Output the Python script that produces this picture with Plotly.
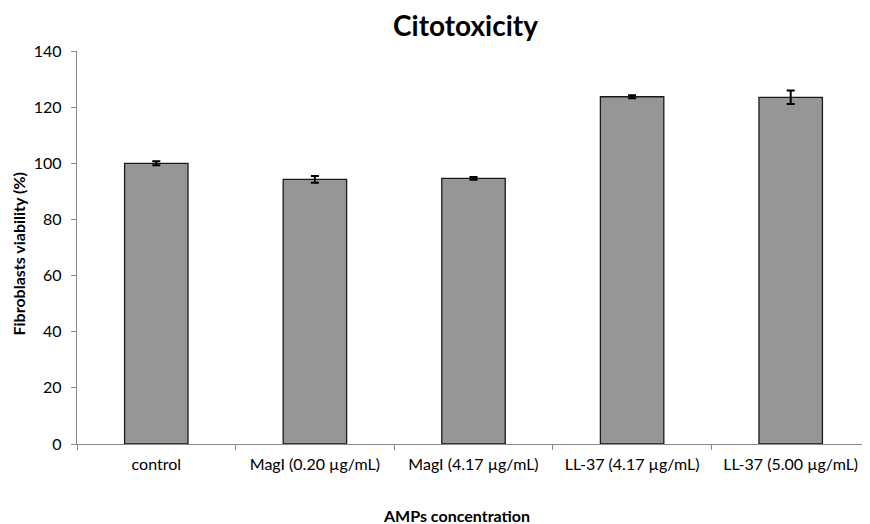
import plotly.graph_objects as go

categories = ["control", "MagI (0.20 µg/mL)", "MagI (4.17 µg/mL)", "LL-37 (4.17 µg/mL)", "LL-37 (5.00 µg/mL)"]
viability = [100.0, 94.3, 94.6, 123.7, 123.5]
errors = [0.7, 1.2, 0.5, 0.5, 2.4]
y_ticks = [0, 20, 40, 60, 80, 100, 120, 140]

font_family = "Lato, 'Open Sans', sans-serif"

fig = go.Figure()
fig.add_trace(go.Bar(
    x=categories, y=viability,
    width=0.4,
    marker=dict(color="#969696", line=dict(color="#1a1a1a", width=1.3)),
    error_y=dict(type="data", array=errors, visible=True, color="#000000", thickness=2, width=4),
))

fig.update_layout(
    width=862, height=516,
    margin=dict(l=69, r=0, t=43, b=80),
    paper_bgcolor="white", plot_bgcolor="white",
    showlegend=False,
    font=dict(family=font_family, size=16, color="#000000"),
)
fig.add_annotation(text="<b>Citotoxicity</b>", xref="paper", yref="paper", x=0.5, y=1, yshift=26, xshift=-8,
                   showarrow=False, font=dict(size=28, family=font_family), xanchor="center", yanchor="middle")
fig.add_annotation(text="<b>AMPs concentration</b>", xref="paper", yref="paper", x=0.5, y=0, yshift=-71, xshift=-17,
                   showarrow=False, font=dict(size=16, family=font_family), xanchor="center", yanchor="middle")
fig.add_annotation(text="<b>Fibroblasts viability (%)</b>", xref="paper", yref="paper", x=0, y=0.5, xshift=-59, yshift=-7,
                   textangle=-90, showarrow=False, font=dict(size=16, family=font_family), xanchor="center", yanchor="middle")

fig.update_xaxes(
    automargin=False,
    showline=True, linecolor="#888888", linewidth=1.3,
    ticks="outside", tickson="boundaries", ticklen=5, tickcolor="#888888",
    ticklabelstandoff=6,
    showgrid=False, tickfont=dict(size=16, family=font_family),
)
fig.update_yaxes(
    automargin=False,
    range=[0, 140], tickvals=y_ticks,
    showline=True, linecolor="#888888", linewidth=1.3,
    ticks="outside", ticklen=5, tickcolor="#888888",
    ticklabelstandoff=6,
    showgrid=False, zeroline=False, tickfont=dict(size=16, family=font_family),
)

fig.write_html("out.html")
